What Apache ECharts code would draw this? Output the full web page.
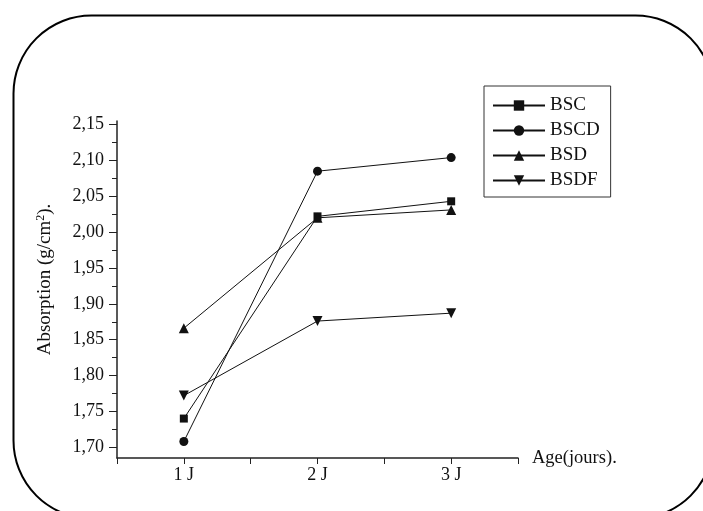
<!DOCTYPE html>
<html><head><meta charset="utf-8">
<script src="https://cdn.jsdelivr.net/npm/echarts@6/dist/echarts.min.js"></script>
<style>html,body{margin:0;padding:0;background:#fff}#c{width:703px;height:511px}</style>
</head><body><div id="c"></div>
<script>
const categories = ['1 J', '2 J', '3 J'];
const seriesNames = ['BSC', 'BSCD', 'BSD', 'BSDF'];
const BSC  = [1.740, 2.022, 2.043];
const BSCD = [1.708, 2.085, 2.104];
const BSD  = [1.866, 2.020, 2.031];
const BSDF = [1.772, 1.876, 1.887];
const yTickLabels = [1.70, 1.75, 1.80, 1.85, 1.90, 1.95, 2.00, 2.05, 2.10, 2.15];
const yMinorTicks = [1.725, 1.775, 1.825, 1.875, 1.925, 1.975, 2.025, 2.075, 2.125];

const FONT = 'Liberation Serif';
const INK = '#222';
const values = [BSC, BSCD, BSD, BSDF];
const symbols = ['rect', 'circle', 'triangle', 'path://M0,0 L10,0 L5,9 Z'];
const sizes = [8, 9, 10, 10];

const chart = echarts.init(document.getElementById('c'), null, {renderer: 'canvas'});
chart.setOption({
  animation: false,
  backgroundColor: '#fff',
  graphic: [{
    type: 'rect', left: 11, top: 13, z: -10,
    shape: {x: 0, y: 0, width: 700, height: 503, r: 78},
    style: {fill: 'none', stroke: '#000', lineWidth: 2}
  }],
  grid: {left: 117, right: 185, top: 121, bottom: 53},
  legend: {
    orient: 'vertical', left: 484, top: 86,
    itemWidth: 52, itemHeight: 13, itemGap: 6,
    padding: [10, 11, 7, 8],
    borderColor: '#333', borderWidth: 1,
    textStyle: {fontFamily: FONT, fontSize: 19, color: '#111'},
    data: seriesNames
  },
  xAxis: {
    type: 'value', min: 0.5, max: 3.5, interval: 0.5,
    name: 'Age(jours).', nameLocation: 'end', nameGap: 14,
    nameTextStyle: {fontFamily: FONT, fontSize: 18.5, color: '#111', verticalAlign: 'middle', padding: [6, 0, 0, 0]},
    axisLine: {lineStyle: {color: INK, width: 1.5}},
    axisTick: {inside: false, length: 6, lineStyle: {color: INK}},
    axisLabel: {
      fontFamily: FONT, fontSize: 18, color: '#111', margin: 8,
      formatter: v => Number.isInteger(v) ? categories[v - 1] : ''
    },
    splitLine: {show: false}
  },
  yAxis: [{
    type: 'value', min: 1.685, max: 2.155,
    name: 'Absorption (g/cm{sup|2}).', nameLocation: 'middle', nameGap: 61,
    nameTextStyle: {fontFamily: FONT, fontSize: 19, color: '#111', padding: [0, 0, 0, 20],
      rich: {sup: {fontFamily: FONT, fontSize: 12, color: '#111', verticalAlign: 'bottom', padding: [0, 0, 9, 0]}}},
    axisLine: {show: true, lineStyle: {color: INK, width: 1.5}},
    axisTick: {show: true, length: 8, lineStyle: {color: INK}, customValues: yTickLabels},
    axisLabel: {
      fontFamily: FONT, fontSize: 18, color: '#111', margin: 13,
      customValues: yTickLabels,
      formatter: v => v.toFixed(2).replace('.', ',')
    },
    splitLine: {show: false}
  }, {
    type: 'value', min: 1.685, max: 2.155, position: 'left',
    axisLine: {show: false},
    axisTick: {show: true, length: 5, lineStyle: {color: INK}, customValues: yMinorTicks},
    axisLabel: {show: false},
    splitLine: {show: false}
  }],
  series: seriesNames.map((n, i) => ({
    name: n, type: 'line',
    data: values[i].map((v, j) => [j + 1, v]),
    symbol: symbols[i], symbolSize: sizes[i],
    lineStyle: {color: '#111', width: 1},
    itemStyle: {color: '#111'}
  }))
});
</script></body></html>
